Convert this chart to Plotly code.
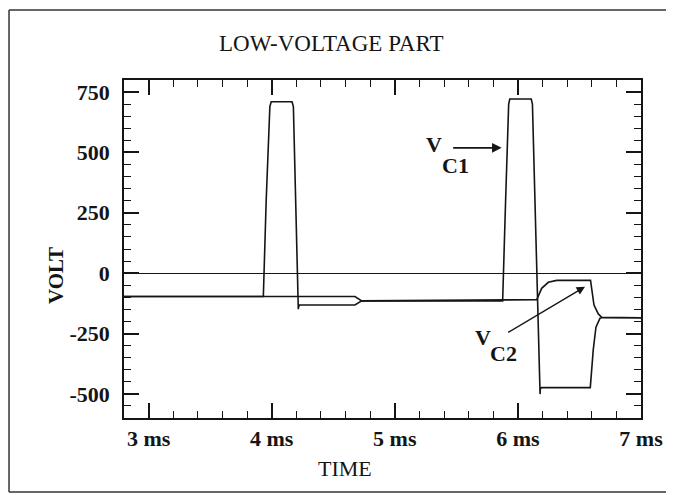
import plotly.graph_objects as go

# Time in ms, voltage in V
t_vc1 = [2.8, 3.932, 3.955, 3.985, 3.996, 4.165, 4.176, 4.216, 4.218, 4.226, 4.676, 4.731,
         5.876, 5.900, 5.925, 5.934, 6.108, 6.118, 6.180, 6.182, 6.192, 6.588, 6.612, 6.634, 6.667, 6.681, 7.0]
v_vc1 = [-97, -97, 300, 690, 710, 710, 690, -149, -140, -132, -132, -115,
         -115, 300, 700, 721, 721, 700, -501, -480, -474, -474, -318, -224, -187, -185, -185]

t_vc2 = [2.8, 4.676, 4.731, 6.153, 6.193, 6.247, 6.315, 6.590, 6.618, 6.653, 6.681, 7.0]
v_vc2 = [-97, -97, -115, -110, -63, -38, -30, -30, -132, -169, -183, -185]

x_tickvals = [3, 4, 5, 6, 7]
x_ticktext = ["3 ms", "4 ms", "5 ms", "6 ms", "7 ms"]
y_tickvals = [-500, -250, 0, 250, 500, 750]
y_ticktext = ["-500", "-250", "0", "250", "500", "750"]

SERIF = "Liberation Serif"
INK = "#151515"

fig = go.Figure()
fig.add_trace(go.Scatter(x=t_vc2, y=v_vc2, mode="lines", name="VC2",
                         line=dict(color=INK, width=1.6)))
fig.add_trace(go.Scatter(x=t_vc1, y=v_vc1, mode="lines", name="VC1",
                         line=dict(color=INK, width=1.6)))

axis_common = dict(showline=True, linecolor=INK, linewidth=1.6, mirror="allticks",
                   ticks="inside", tickcolor=INK, tickwidth=1.5, showgrid=False,
                   tickfont=dict(family=SERIF, size=22, color=INK, weight="bold"))

fig.update_xaxes(range=[2.8, 7.0], tickvals=x_tickvals, ticktext=x_ticktext, ticklen=15,
                 minor=dict(dtick=0.2, tick0=3, ticks="inside", ticklen=7, tickcolor=INK, tickwidth=1.2),
                 zeroline=False, ticklabelstandoff=0, **axis_common)
fig.update_yaxes(range=[-600, 800], tickvals=y_tickvals, ticktext=y_ticktext, ticklen=15,
                 minor=dict(dtick=50, tick0=0, ticks="inside", ticklen=7, tickcolor=INK, tickwidth=1.2),
                 zeroline=True, zerolinecolor=INK, zerolinewidth=1.4, ticklabelstandoff=8, **axis_common)

lab = dict(xanchor="center", yanchor="middle", showarrow=False)
annotations = [
    dict(text="LOW-VOLTAGE PART", xref="paper", yref="paper", x=0.4004, y=1.109,
         font=dict(family=SERIF, size=23, color=INK), **lab),
    dict(text="VOLT", xref="paper", yref="paper", x=-0.1315, y=0.42, textangle=-90,
         font=dict(family=SERIF, size=21, color=INK, weight="bold"), **lab),
    dict(text="TIME", xref="paper", yref="paper", x=0.4275, y=-0.148,
         font=dict(family=SERIF, size=22, color=INK), **lab),
    # V_C1 label and arrow
    dict(text="V", x=5.318, y=531, xref="x", yref="y",
         font=dict(family=SERIF, size=22, color=INK, weight="bold"), **lab),
    dict(text="C1", x=5.497, y=444, xref="x", yref="y",
         font=dict(family=SERIF, size=22, color=INK, weight="bold"), **lab),
    dict(text="", x=5.868, y=519, ax=5.462, ay=519, xref="x", yref="y", axref="x", ayref="y",
         showarrow=True, arrowhead=2, arrowsize=1.2, arrowwidth=1.6, arrowcolor=INK),
    # V_C2 label and arrow
    dict(text="V", x=5.716, y=-265, xref="x", yref="y",
         font=dict(family=SERIF, size=22, color=INK, weight="bold"), **lab),
    dict(text="C2", x=5.887, y=-331, xref="x", yref="y",
         font=dict(family=SERIF, size=22, color=INK, weight="bold"), **lab),
    dict(text="", x=6.545, y=-56, ax=5.909, ay=-249, xref="x", yref="y", axref="x", ayref="y",
         showarrow=True, arrowhead=2, arrowsize=1.2, arrowwidth=1.4, arrowcolor=INK),
]

frame = dict(type="line", xref="paper", yref="paper", layer="below",
             line=dict(color="#333333", width=1.5))
shapes = [
    dict(frame, x0=-0.2224, x1=-0.2224, y0=-0.219, y1=1.207),  # left edge
    dict(frame, x0=-0.2224, x1=1.3, y0=1.207, y1=1.207),        # top edge
    dict(frame, x0=-0.2224, x1=1.3, y0=-0.219, y1=-0.219),      # bottom edge
]

# the page body adds an 8px margin, so the figure is sized to fit the window after it
fig.update_layout(
    width=666, height=487,
    margin=dict(l=116, r=33, t=72, b=77),
    paper_bgcolor="white", plot_bgcolor="white",
    showlegend=False,
    annotations=annotations,
    shapes=shapes,
)

fig.write_html("out.html")
